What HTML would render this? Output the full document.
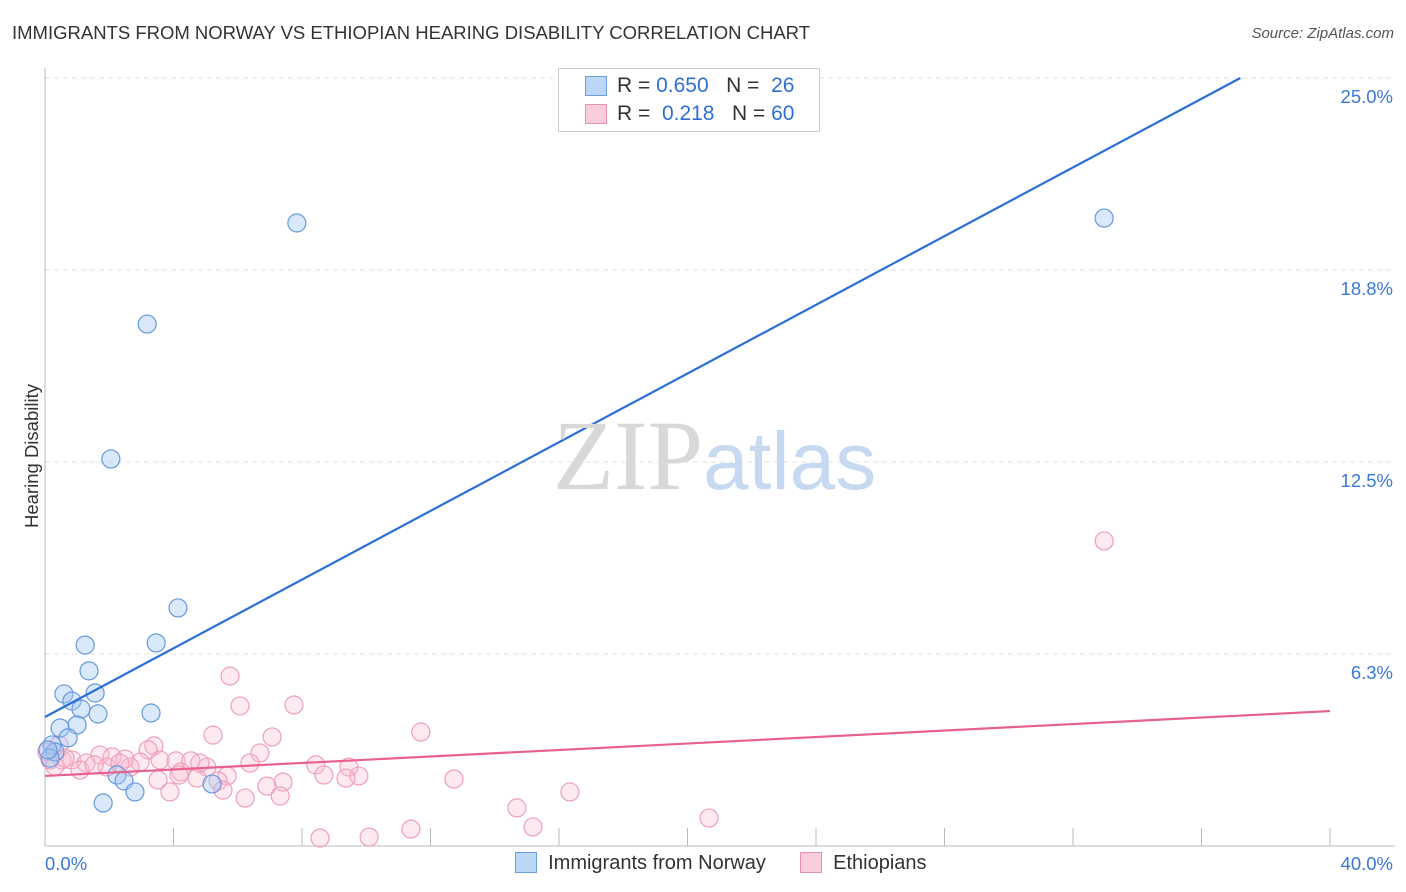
<!DOCTYPE html>
<html><head><meta charset="utf-8"><style>
body{margin:0;background:#fff;font-family:"Liberation Sans",sans-serif;}
#wrap{position:relative;width:1406px;height:892px;overflow:hidden}
.t{position:absolute;white-space:nowrap}
</style></head><body>
<div id="wrap">
<div class="t" style="left:12px;top:22px;font-size:18.5px;color:#333">IMMIGRANTS FROM NORWAY VS ETHIOPIAN HEARING DISABILITY CORRELATION CHART</div>
<div class="t" style="right:12px;top:25px;font-size:15px;color:#555;font-style:italic">Source: ZipAtlas.com</div>
<div class="t" style="left:-40px;top:445px;font-size:18.5px;color:#333;transform:rotate(-90deg)">Hearing Disability</div>
<svg id="svg" width="1406" height="892" style="position:absolute;left:0;top:0"></svg>
<div class="t" style="left:553px;top:398px;font-size:100px;font-family:'Liberation Serif',serif;color:#d8d8d8">ZIP<span style="font-family:'Liberation Sans',sans-serif;color:#c6d9f0;font-size:82px">atlas</span></div>
<div style="position:absolute;left:558px;top:68px;width:260px;height:62px;border:1px solid #ccc;background:#fff;font-size:21px;color:#333">
 <div style="position:absolute;left:26px;top:7px;width:20px;height:18px;background:#bcd6f5;border:1px solid #6a9ee0"></div>
 <div class="t" style="left:58px;top:5px">R = <span style="color:#2f6fd1">0.650</span>&nbsp;&nbsp;&nbsp;N = &nbsp;<span style="color:#2f6fd1">26</span></div>
 <div style="position:absolute;left:26px;top:35px;width:20px;height:18px;background:#f9cdd9;border:1px solid #e991ac"></div>
 <div class="t" style="left:58px;top:33px">R = &nbsp;<span style="color:#2f6fd1">0.218</span>&nbsp;&nbsp;&nbsp;N = <span style="color:#2f6fd1">60</span></div>
</div>
<div style="position:absolute;left:515px;top:852px;font-size:20px;color:#333">
 <span style="display:inline-block;width:20px;height:19px;background:#bcd6f5;border:1px solid #6a9ee0;vertical-align:-4px"></span>&nbsp; Immigrants from Norway</div>
<div style="position:absolute;left:800px;top:852px;font-size:20px;color:#333">
 <span style="display:inline-block;width:20px;height:19px;background:#f9cdd9;border:1px solid #e991ac;vertical-align:-4px"></span>&nbsp; Ethiopians</div>
</div>
<script>
const yTicks=[6.25,12.5,18.75,25];
const yTickLabels=["6.3%","12.5%","18.8%","25.0%"];
const xTickLabels=["0.0%","40.0%"];
const norwayX=[7.84,32.97,3.18,2.05,4.14,1.25,3.46,1.37,0.59,1.56,0.84,1.12,1.65,3.30,0.47,1.00,0.72,0.22,0.31,0.16,2.24,2.46,2.80,1.81,5.20,0.09];
const norwayY=[20.28,20.44,16.99,12.60,7.75,6.54,6.61,5.70,4.95,4.98,4.72,4.46,4.30,4.33,3.84,3.94,3.52,3.29,3.06,2.86,2.31,2.12,1.76,1.40,2.02,3.13];
const ethX=[32.97,5.76,6.07,7.75,5.23,7.07,11.70,6.69,3.39,3.21,1.71,2.09,2.49,3.58,4.08,4.54,6.38,2.96,0.53,0.84,1.28,1.93,1.09,2.65,8.43,9.46,5.04,4.23,4.73,5.67,9.77,9.37,7.41,6.91,3.52,4.17,5.39,3.89,6.23,7.32,5.54,8.68,12.73,16.34,14.69,15.19,20.67,11.39,10.09,8.56,0.44,0.06,0.16,0.31,0.62,1.53,2.33,4.82];
const ethY=[9.93,5.53,4.56,4.59,3.61,3.55,3.71,3.03,3.26,3.13,2.96,2.90,2.83,2.80,2.77,2.77,2.70,2.73,2.80,2.80,2.70,2.57,2.47,2.57,2.64,2.57,2.57,2.41,2.21,2.28,2.28,2.21,2.08,1.95,2.15,2.31,2.12,1.76,1.56,1.63,1.82,2.31,2.18,1.76,1.24,0.62,0.91,0.55,0.29,0.26,3.29,3.06,2.80,2.60,2.86,2.64,2.70,2.70];
const norwayTrend=[4.20,0.559];
const ethTrend=[2.28,0.0528];
const svg=document.getElementById('svg');const NS='http://www.w3.org/2000/svg';
const X0=45,X1=1330,Y0=846;
const sx=v=>X0+v/40*(X1-X0);
const sy=v=>Y0-v/6.25*192;
function mk(t,a){const e=document.createElementNS(NS,t);for(const k in a)e.setAttribute(k,a[k]);svg.appendChild(e);return e;}
yTicks.forEach((v,i)=>{
 const g=mk('line',{x1:X0,x2:1395,y1:sy(v),y2:sy(v),stroke:'#e2e2e2','stroke-dasharray':'5,4'});
 
 
 const t=mk('text',{x:1393,y:sy(v)+25,'text-anchor':'end','font-size':18.5,fill:'#3b78d8','font-family':'Liberation Sans'});
 t.textContent=yTickLabels[i];
 
 
});
let a=mk('line',{x1:X0,x2:X0,y1:68,y2:Y0,stroke:'#bbb'});


a=mk('line',{x1:X0,x2:1395,y1:Y0,y2:Y0,stroke:'#bbb'});


for(let i=1;i<=10;i++){const tk=mk('line',{x1:sx(i*4),x2:sx(i*4),y1:828,y2:Y0,stroke:'#bbb'});
 
 }
[[0,'start',45],[40,'end',1393]].forEach((d,i)=>{const t=mk('text',{x:d[2],y:870,'text-anchor':d[1],'font-size':18.5,fill:'#3b78d8','font-family':'Liberation Sans'});t.textContent=xTickLabels[i];
 
 });
ethX.forEach((x,i)=>{const c=mk('circle',{cx:sx(x),cy:sy(ethY[i]),r:9,fill:'rgba(248,190,208,0.32)',stroke:'#ee9fb9','stroke-width':1.2});
 
 });
norwayX.forEach((x,i)=>{const c=mk('circle',{cx:sx(x),cy:sy(norwayY[i]),r:9,fill:'rgba(160,197,242,0.4)',stroke:'#6599de','stroke-width':1.2});
 
 });
let xe=(25-norwayTrend[0])/norwayTrend[1];
let l=mk('line',{x1:sx(0),y1:sy(norwayTrend[0]),x2:sx(xe),y2:sy(25),stroke:'#2a6fd6','stroke-width':2.2});


l=mk('line',{x1:sx(0),y1:sy(ethTrend[0]),x2:sx(40),y2:sy(ethTrend[0]+ethTrend[1]*40),stroke:'#e8608e','stroke-width':2.2});


</script>
</body></html>
